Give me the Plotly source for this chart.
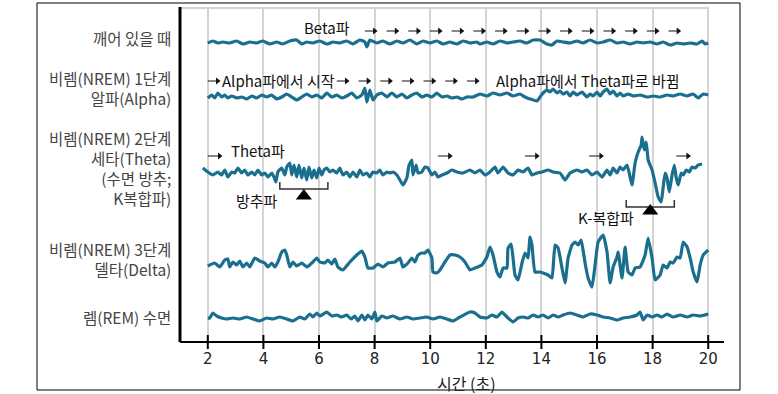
import plotly.graph_objects as go

# ---------------- data (time in s, deflection in arbitrary units) ----------------
TICKS = [2, 4, 6, 8, 10, 12, 14, 16, 18, 20]
TICK_TEXT = ["2", "4", "6", "8", "10", "12", "14", "16", "18", "20"]

AWAKE_T = [2.00,2.18,2.36,2.54,2.79,3.04,3.26,3.51,3.76,3.98,4.23,4.48,4.70,4.95,5.20,5.38,5.56,5.78,6.03,6.28,
           6.50,6.75,7.00,7.22,7.47,7.65,7.72,7.83,8.08,8.30,8.55,8.80,9.02,9.27,9.52,9.74,9.99,10.24,10.46,10.71,
           10.96,11.18,11.43,11.68,11.79,12.04,12.26,12.51,12.76,12.98,13.23,13.48,13.70,13.95,14.20,14.38,14.56,14.78,15.03,15.28,
           15.50,15.75,16.00,16.22,16.47,16.72,16.94,17.19,17.44,17.66,17.91,18.16,18.38,18.63,18.88,19.10,19.35,19.60,19.78,19.89,20.00]
AWAKE_V = [0,2,0,1,0,2,-1,1,0,2,-1,1,-1,2,3,-1,1,0,2,-1,
           1,0,2,-1,3,1,-4,3,0,2,-1,2,0,3,-1,2,0,2,-1,1,
           -1,2,0,1,-1,1,-1,2,0,1,2,0,3,3,-1,-2,2,1,0,2,
           0,3,0,1,3,0,1,-1,1,0,1,-1,1,-2,0,-1,0,-1,2,-1,0]

STAGE1_T = [2.00,2.14,2.25,2.36,2.50,2.61,2.72,2.86,3.04,3.22,3.40,3.58,3.76,3.94,4.12,4.30,4.48,4.66,4.84,5.02,
            5.20,5.38,5.56,5.74,5.92,6.10,6.28,6.46,6.64,6.82,7.00,7.18,7.36,7.54,7.65,7.72,7.83,7.94,8.08,8.26,
            8.44,8.62,8.80,8.98,9.16,9.34,9.52,9.70,9.88,10.06,10.24,10.42,10.60,10.78,10.96,11.14,11.32,11.54,11.79,12.04,
            12.26,12.51,12.76,12.98,13.23,13.41,13.59,13.84,13.95,14.06,14.20,14.31,14.42,14.56,14.67,14.78,14.92,15.03,15.14,15.28,
            15.46,15.64,15.75,15.86,16.00,16.11,16.22,16.36,16.47,16.58,16.72,16.83,16.94,17.12,17.30,17.55,17.80,18.02,18.27,18.52,
            18.74,18.99,19.24,19.46,19.64,19.82,20.00]
STAGE1_V = [-1,2,-1,4,0,2,-1,1,-1,0,-2,1,-1,2,0,2,-2,0,3,0,
            -3,0,3,0,2,-1,4,0,2,-1,1,4,-1,2,9,-5,7,-3,2,4,
            0,4,0,3,-1,2,4,0,2,0,4,0,1,-1,0,-2,0,0,3,1,
            4,2,4,1,3,0,-2,-4,0,4,7,5,8,4,6,3,5,1,5,2,
            5,0,3,1,5,1,5,8,3,6,1,4,1,3,1,2,0,1,0,2,
            1,3,1,3,-1,3,2]

STAGE2_T = [1.82,2.00,2.18,2.36,2.50,2.61,2.72,2.86,2.97,3.08,3.22,3.33,3.44,3.58,3.69,3.80,3.94,4.05,4.16,4.30,
            4.38,4.45,4.52,4.66,4.77,4.84,4.95,5.02,5.10,5.20,5.28,5.38,5.46,5.56,5.64,5.74,5.82,5.92,6.00,6.10,
            6.18,6.28,6.39,6.50,6.64,6.75,6.86,7.00,7.11,7.22,7.36,7.47,7.58,7.72,7.83,7.94,8.08,8.19,8.30,8.44,
            8.55,8.66,8.80,8.91,9.02,9.16,9.24,9.34,9.38,9.49,9.56,9.70,9.81,9.92,10.06,10.17,10.28,10.42,10.60,10.78,
            10.96,11.18,11.43,11.61,11.79,11.97,12.15,12.33,12.44,12.62,12.80,12.98,13.16,13.34,13.52,13.66,13.84,14.02,14.24,14.42,
            14.67,14.85,15.03,15.28,15.46,15.64,15.82,16.00,16.18,16.36,16.47,16.58,16.72,16.83,16.94,17.08,17.19,17.26,17.37,17.48,
            17.59,17.62,17.70,17.77,17.84,17.98,18.09,18.20,18.31,18.38,18.45,18.52,18.60,18.70,18.78,18.85,18.92,19.03,19.10,19.21,
            19.32,19.42,19.53,19.64,19.78]
STAGE2_V = [4,0,-3,0,-3,2,-5,0,-1,4,-1,2,-3,0,-3,2,-3,-1,-5,-1,
            -5,-10,0,4,-3,5,9,-3,7,-5,7,-6,4,-8,5,-6,2,-6,4,-3,
            2,4,0,2,-1,4,-3,0,-5,0,-5,2,-3,-1,-5,0,-1,2,-3,0,
            -1,0,-3,-8,-13,-6,7,12,-3,7,-1,0,5,4,-3,0,-5,-3,-1,2,
            0,-1,2,-1,2,-3,0,5,-1,5,-1,-3,2,0,4,-3,-1,0,2,0,
            -1,-8,-1,2,0,2,-3,0,-5,2,-3,4,-1,5,2,7,-5,-13,9,20,
            27,35,22,30,12,2,-11,-25,-30,-15,-1,-6,-20,-3,7,-6,-13,-1,-3,2,
            0,5,4,7,8]

STAGE3_T = [2.00,2.25,2.43,2.61,2.72,2.79,2.90,3.04,3.15,3.26,3.40,3.51,3.69,3.87,4.05,4.16,4.30,4.41,4.52,4.66,
            4.77,4.84,4.95,5.06,5.20,5.38,5.56,5.78,5.92,6.03,6.21,6.32,6.46,6.57,6.68,6.86,7.11,7.36,7.54,7.65,
            7.76,7.94,8.12,8.30,8.48,8.73,8.91,9.02,9.20,9.34,9.45,9.56,9.70,9.81,9.92,10.06,10.10,10.24,10.35,10.53,
            10.71,10.89,11.07,11.25,11.43,11.61,11.86,12.04,12.15,12.26,12.40,12.51,12.62,12.76,12.80,12.91,12.98,13.05,13.16,13.31,
            13.41,13.52,13.59,13.66,13.77,13.95,14.06,14.24,14.38,14.49,14.60,14.74,14.85,14.96,15.10,15.21,15.32,15.43,15.57,15.68,
            15.82,15.93,16.04,16.22,16.36,16.47,16.58,16.72,16.76,16.90,17.01,17.12,17.26,17.37,17.55,17.73,17.84,17.98,18.09,18.27,
            18.38,18.52,18.63,18.74,18.88,18.99,19.10,19.24,19.35,19.46,19.60,19.71,19.82,20.00]
STAGE3_V = [-1,2,-2,5,6,-2,3,0,4,-2,2,-2,7,4,2,-2,2,-2,3,13,
            15,10,-2,3,-1,2,-2,3,7,3,2,5,1,6,-2,-5,3,10,14,8,
            -3,-3,1,-2,2,3,7,-2,2,7,3,10,12,12,15,7,-7,-8,-5,3,
            10,10,8,3,-5,-3,0,8,18,10,-7,-12,-3,-3,17,21,7,-10,-15,3,
            12,7,28,20,-7,-7,-8,-10,-13,20,17,-3,-18,7,20,23,20,25,2,-13,
            -22,0,23,30,13,-18,-2,8,13,-13,18,-7,-10,-3,-2,10,27,7,-15,-10,
            0,-3,3,2,8,7,23,18,7,-7,-17,0,10,15]

REM_T = [2.00,2.07,2.18,2.32,2.50,2.68,2.90,3.15,3.40,3.62,3.87,4.12,4.34,4.59,4.84,5.06,5.31,5.49,5.67,5.78,
         5.92,6.03,6.28,6.46,6.64,6.82,7.00,7.15,7.29,7.40,7.54,7.65,7.76,7.90,8.01,8.08,8.26,8.44,8.66,8.91,
         9.16,9.38,9.63,9.88,10.10,10.35,10.60,10.82,11.07,11.43,11.61,11.79,12.04,12.22,12.40,12.58,12.69,12.80,12.98,13.16,
         13.34,13.52,13.70,13.88,14.06,14.24,14.42,14.60,14.78,15.03,15.28,15.50,15.75,16.00,16.22,16.47,16.72,16.94,17.19,17.44,
         17.55,17.66,17.80,17.98,18.16,18.34,18.52,18.74,18.99,19.24,19.46,19.71,20.00]
REM_V = [-1,-1,4,1,-1,-2,-1,-2,0,-2,-4,-1,-2,0,-2,-4,0,-2,3,0,
         4,1,5,1,2,0,2,-2,1,-4,2,-3,2,-2,5,-4,1,-1,1,-2,
         0,-2,-1,0,-2,0,-2,-4,0,5,4,0,-1,2,0,5,2,-1,-5,-1,
         0,-1,2,0,2,-1,2,0,2,4,2,0,3,2,0,-1,-3,-1,0,2,
         5,-3,2,0,2,0,3,0,2,0,2,1,3]

ROW_LABELS = [["깨어 있을 때"],
              ["비렘(NREM) 1단계", "알파(Alpha)"],
              ["비렘(NREM) 2단계", "세타(Theta)", "(수면 방추;", "K복합파)"],
              ["비렘(NREM) 3단계", "델타(Delta)"],
              ["렘(REM) 수면"]]
X_TITLE = "시간 (초)"

# ---------------- layout / style ----------------
FONT = "Noto Sans CJK KR"
TRACE_COLOR = "#1a6e8e"
BASELINES = [299, 245, 170, 77, 25]        # vertical offset of each trace
LABEL_Y = [304, 254, 174.5, 83.5, 25]      # centre of each label block

fig = go.Figure()

series = [(AWAKE_T, AWAKE_V), (STAGE1_T, STAGE1_V), (STAGE2_T, STAGE2_V),
          (STAGE3_T, STAGE3_V), (REM_T, REM_V)]
for (ts, vs), base in zip(series, BASELINES):
    fig.add_trace(go.Scatter(x=ts, y=[base + v for v in vs], mode="lines",
                             line=dict(color=TRACE_COLOR, width=3.2, shape="spline", smoothing=0.4),
                             hoverinfo="skip", showlegend=False))

# --- small arrows ---
def arrow_set(tails, length, y):
    xs, ys, hx, hy = [], [], [], []
    for t in tails:
        xs += [t, t + length - 0.1, None]
        ys += [y, y, None]
        hx.append(t + length - 0.1)
        hy.append(y)
    return xs, ys, hx, hy

arrow_groups = [
    ([7.65 + 0.78 * k for k in range(15)], 0.45, 311),
    ([2.00], 0.45, 261),
    ([6.64 + 0.78 * k for k in range(7)], 0.45, 261),
    ([2.00, 10.28, 13.41, 15.72, 18.85], 0.52, 186),
]
for tails, ln, y in arrow_groups:
    xs, ys, hx, hy = arrow_set(tails, ln, y)
    fig.add_trace(go.Scatter(x=xs, y=ys, mode="lines", line=dict(color="#111", width=1),
                             hoverinfo="skip", showlegend=False, cliponaxis=False))
    fig.add_trace(go.Scatter(x=hx, y=hy, mode="markers",
                             marker=dict(symbol="triangle-right", size=6, color="#111"),
                             hoverinfo="skip", showlegend=False, cliponaxis=False))

# --- brackets and triangles for spindle / K-complex ---
for x0, x1, yb, tri_y in [(4.59, 6.32, 153, 146), (17.05, 18.78, 135, 131)]:
    fig.add_trace(go.Scatter(x=[x0, x0, x1, x1], y=[yb + 7, yb, yb, yb + 7], mode="lines",
                             line=dict(color="#333", width=1.5), hoverinfo="skip", showlegend=False))
    fig.add_trace(go.Scatter(x=[(x0 + x1) / 2], y=[tri_y], mode="markers",
                             marker=dict(symbol="triangle-up", size=14, color="#000"),
                             hoverinfo="skip", showlegend=False))

# --- axis tick marks crossing the axis ---
fig.add_trace(go.Scatter(x=TICKS, y=[0] * len(TICKS), mode="markers",
                         marker=dict(symbol="line-ns", size=10, line=dict(color="#000", width=2)),
                         hoverinfo="skip", showlegend=False, cliponaxis=False))

annotations = []
for lines, y in zip(ROW_LABELS, LABEL_Y):
    annotations.append(dict(text="<br>".join(lines), x=-0.013, xref="paper", y=y, yref="y",
                            xanchor="right", yanchor="middle", align="right", showarrow=False,
                            font=dict(family=FONT, size=15.5, color="#444")))

in_plot_text = [("Beta파", 6.28, 315), ("Alpha파에서 시작", 4.56, 262),
                ("Alpha파에서 Theta파로 바뀜", 15.66, 262), ("Theta파", 3.80, 192),
                ("방추파", 3.76, 142), ("K-복합파", 16.33, 125)]
for txt, x, y in in_plot_text:
    annotations.append(dict(text=txt, x=x, y=y, xref="x", yref="y", showarrow=False,
                            xanchor="center", yanchor="middle",
                            font=dict(family=FONT, size=15, color="#111")))

annotations.append(dict(text=X_TITLE, x=11.3, xref="x", y=-0.122, yref="paper",
                        showarrow=False, xanchor="center", yanchor="middle",
                        font=dict(family=FONT, size=16, color="#222")))

shapes = [
    # outer frame
    dict(type="rect", xref="paper", yref="paper", x0=-0.2693, x1=1.0546, y0=-0.1437, y1=1.015,
         line=dict(color="#000", width=1)),
    # top light border
    dict(type="line", xref="paper", yref="paper", x0=0, x1=0.996, y0=1, y1=1,
         line=dict(color="#d4d4d4", width=2), layer="below"),
    # left axis
    dict(type="line", xref="paper", yref="paper", x0=0, x1=0, y0=0, y1=1.003,
         line=dict(color="#000", width=3)),
    # bottom axis
    dict(type="line", xref="paper", yref="paper", x0=0, x1=1.0245, y0=0, y1=0,
         line=dict(color="#000", width=2)),
]

fig.update_layout(
    width=778, height=394,
    margin=dict(l=180, r=67, t=8, b=52),
    paper_bgcolor="white", plot_bgcolor="white",
    showlegend=False,
    xaxis=dict(range=[1.0, 20.1], tickvals=TICKS, ticktext=TICK_TEXT,
               showgrid=True, gridcolor="#d4d4d4", gridwidth=2, zeroline=False,
               showline=False, ticks="outside", ticklen=3, tickcolor="rgba(0,0,0,0)",
               tickfont=dict(family="DejaVu Sans", size=15, color="#222")),
    yaxis=dict(range=[0, 334], showgrid=False, zeroline=False, showticklabels=False,
               showline=False, ticks=""),
    annotations=annotations,
    shapes=shapes,
)

fig.write_html("out.html", config={"displayModeBar": False},
               post_script="document.body.style.margin='0';document.body.style.padding='0';")
